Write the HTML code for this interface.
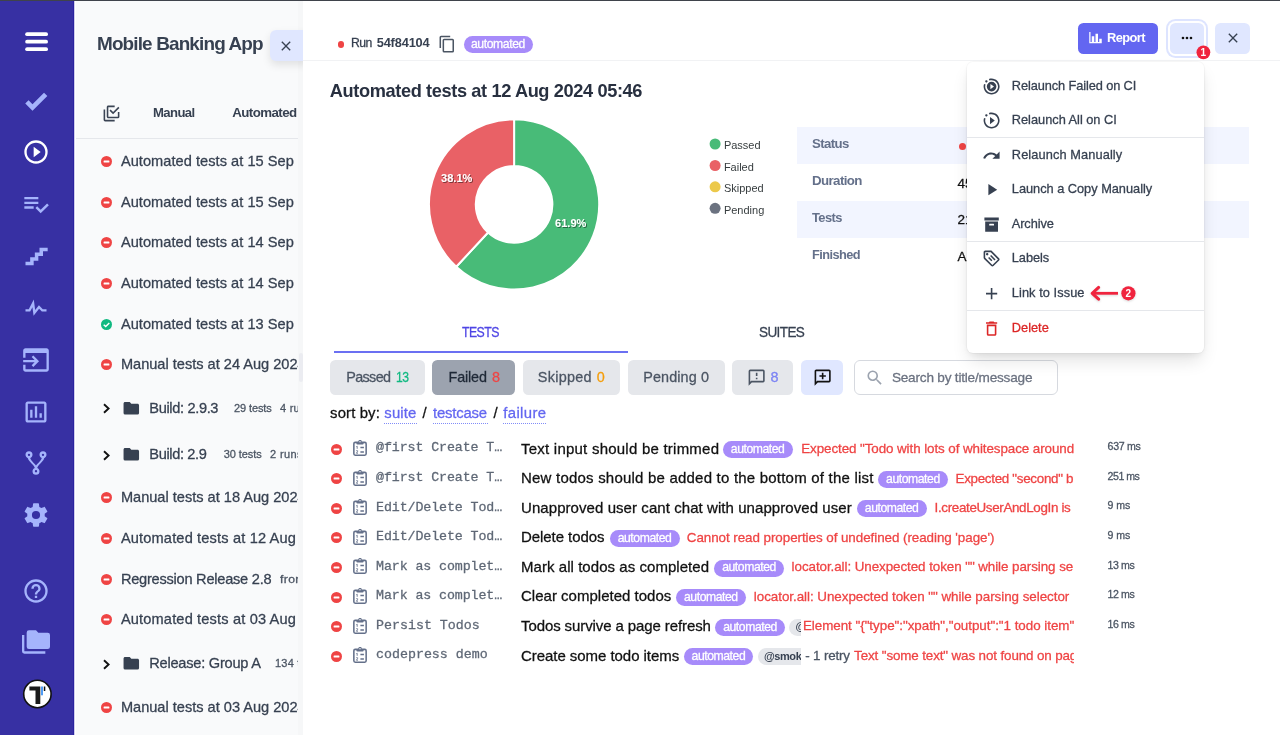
<!DOCTYPE html>
<html lang="en">
<head>
<meta charset="utf-8">
<title>Mobile Banking App - Runs</title>
<style>
*{box-sizing:border-box;margin:0;padding:0}
html,body{width:1280px;height:735px;overflow:hidden;background:#f9fafb;font-family:"Liberation Sans",sans-serif;color:#374151}
#app{position:absolute;left:0;top:0;width:1280px;height:735px;will-change:transform}
.abs{position:absolute}
svg{display:block;position:absolute;fill:#374151}
.t{position:absolute;white-space:pre;line-height:1;-webkit-text-stroke:.28px currentColor}
#side{position:absolute;left:0;top:0;width:74px;height:735px;background:#3730a3;border-right:1px solid #2b239f}
#side svg{fill:#a5b4fc}
#topline{position:absolute;left:0;top:0;width:1280px;height:1px;background:#3f434b}
#strip{position:absolute;left:74px;top:0;width:2px;height:735px;background:#fff;border-left:1px solid #cfcdeb}
#mainbg{position:absolute;left:303px;top:0;width:977px;height:735px;background:#fff}
.clip{position:absolute;overflow:hidden}
.badge{position:absolute;height:17px;border-radius:8.5px;background:#a78bfa}
</style>
</head>
<body>
<div id="app">
<div id="side">
<svg style="left:24px;top:30px;width:26px;height:23px" viewBox="0 0 26 23"><g fill="#fff"><rect x="1.2" y="2.3" width="22.8" height="3.8" rx="1.9"/><rect x="1.2" y="9.8" width="22.8" height="3.8" rx="1.9"/><rect x="1.2" y="17.3" width="22.8" height="3.8" rx="1.9"/></g></svg>
<svg style="left:22.4px;top:87.0px;width:28px;height:28px" viewBox="0 0 24 24"><path d="M9,20.42L2.79,14.21L5.62,11.38L9,14.77L18.88,4.88L21.71,7.71L9,20.42Z"/></svg>
<svg style="left:22.4px;top:138.4px;width:28px;height:28px;fill:#fff" viewBox="0 0 24 24"><path d="M12,20C7.59,20 4,16.41 4,12C4,7.59 7.59,4 12,4C16.41,4 20,7.59 20,12C20,16.41 16.41,20 12,20M12,2A10,10 0 0,0 2,12A10,10 0 0,0 12,22A10,10 0 0,0 22,12A10,10 0 0,0 12,2M10,16.5L16,12L10,7.5V16.5Z"/></svg>
<svg style="left:22.4px;top:189.8px;width:28px;height:28px" viewBox="0 0 24 24"><path d="M14,10H2V12H14V10M14,6H2V8H14V6M2,16H10V14H2V16M21.5,11.5L23,13L16,20L11.5,15.5L13,14L16,17L21.5,11.5Z"/></svg>
<svg style="left:22.4px;top:242.1px;width:28px;height:28px" viewBox="0 0 24 24"><path d="M15,5V9H11V13H7V17H3V20H10V16H14V12H18V8H22V5H15Z"/></svg>
<svg style="left:22.4px;top:294px;width:28px;height:28px" viewBox="0 0 24 24"><path d="M3,13H5.79L10.1,4.79L11.28,13.75L14.5,9.66L17.83,13H21V15H17L14.67,12.67L9.92,18.73L8.94,11.31L7,15H3V13Z"/></svg>
<svg style="left:22.4px;top:345.6px;width:28px;height:28px" viewBox="0 0 24 24"><path d="M1 12H10.8L8.3 9.5L9.7 8.1L14.6 13L9.7 17.9L8.3 16.5L10.8 14H1V12M21 2H3C1.9 2 1 2.9 1 4V10.1H3V6H21V20H3V16H1V20C1 21.1 1.9 22 3 22H21C22.1 22 23 21.1 23 20V4C23 2.9 22.1 2 21 2Z"/></svg>
<svg style="left:22.4px;top:397.5px;width:28px;height:28px" viewBox="0 0 24 24"><path d="M9 17H7V10H9V17M13 17H11V7H13V17M17 17H15V13H17V17M19 19H5V5H19V19.1M19 3H5C3.9 3 3 3.9 3 5V19C3 20.1 3.9 21 5 21H19C20.1 21 21 20.1 21 19V5C21 3.9 20.1 3 19 3Z"/></svg>
<svg style="left:22.4px;top:449px;width:28px;height:28px" viewBox="0 0 24 24"><path d="M6,2A3,3 0 0,1 9,5C9,6.28 8.19,7.38 7.06,7.81C7.15,8.27 7.39,8.83 8,9.63C9,10.92 11,12.83 12,14.17C13,12.83 15,10.92 16,9.63C16.61,8.83 16.85,8.27 16.94,7.81C15.81,7.38 15,6.28 15,5A3,3 0 0,1 18,2A3,3 0 0,1 21,5C21,6.32 20.14,7.45 18.95,7.85C18.87,8.37 18.64,9 18,9.83C17,11.17 15,13.08 14,14.38C13.39,15.17 13.15,15.73 13.06,16.19C14.19,16.62 15,17.72 15,19A3,3 0 0,1 12,22A3,3 0 0,1 9,19C9,17.72 9.81,16.62 10.94,16.19C10.85,15.73 10.61,15.17 10,14.38C9,13.08 7,11.17 6,9.83C5.36,9 5.13,8.37 5.05,7.85C3.86,7.45 3,6.32 3,5A3,3 0 0,1 6,2M6,4A1,1 0 0,0 5,5A1,1 0 0,0 6,6A1,1 0 0,0 7,5A1,1 0 0,0 6,4M18,4A1,1 0 0,0 17,5A1,1 0 0,0 18,6A1,1 0 0,0 19,5A1,1 0 0,0 18,4M12,18A1,1 0 0,0 11,19A1,1 0 0,0 12,20A1,1 0 0,0 13,19A1,1 0 0,0 12,18Z"/></svg>
<svg style="left:22.4px;top:501px;width:28px;height:28px" viewBox="0 0 24 24"><path d="M12,15.5A3.5,3.5 0 0,1 8.5,12A3.5,3.5 0 0,1 12,8.5A3.5,3.5 0 0,1 15.5,12A3.5,3.5 0 0,1 12,15.5M19.43,12.97C19.47,12.65 19.5,12.33 19.5,12C19.5,11.67 19.47,11.34 19.43,11L21.54,9.37C21.73,9.22 21.78,8.95 21.66,8.73L19.66,5.27C19.54,5.05 19.27,4.96 19.05,5.05L16.56,6.05C16.04,5.66 15.5,5.32 14.87,5.07L14.5,2.42C14.46,2.18 14.25,2 14,2H10C9.75,2 9.54,2.18 9.5,2.42L9.13,5.07C8.5,5.32 7.96,5.66 7.44,6.05L4.95,5.05C4.73,4.96 4.46,5.05 4.34,5.27L2.34,8.73C2.21,8.95 2.27,9.22 2.46,9.37L4.57,11C4.53,11.34 4.5,11.67 4.5,12C4.5,12.33 4.53,12.65 4.57,12.97L2.46,14.63C2.27,14.78 2.21,15.05 2.34,15.27L4.34,18.73C4.46,18.95 4.73,19.03 4.95,18.95L7.44,17.94C7.96,18.34 8.5,18.68 9.13,18.93L9.5,21.58C9.54,21.82 9.75,22 10,22H14C14.25,22 14.46,21.82 14.5,21.58L14.87,18.93C15.5,18.67 16.04,18.34 16.56,17.94L19.05,18.95C19.27,19.03 19.54,18.95 19.66,18.73L21.66,15.27C21.78,15.05 21.73,14.78 21.54,14.63L19.43,12.97Z"/></svg>
<svg style="left:22.4px;top:576.7px;width:28px;height:28px" viewBox="0 0 24 24"><path d="M11,18H13V16H11V18M12,2A10,10 0 0,0 2,12A10,10 0 0,0 12,22A10,10 0 0,0 22,12A10,10 0 0,0 12,2M12,20C7.59,20 4,16.41 4,12C4,7.59 7.59,4 12,4C16.41,4 20,7.59 20,12C20,16.41 16.41,20 12,20M12,6A4,4 0 0,0 8,10H10A2,2 0 0,1 12,8A2,2 0 0,1 14,10C14,12 11,11.75 11,15H13C13,12.75 16,12.5 16,10A4,4 0 0,0 12,6Z"/></svg>
<svg style="left:22.4px;top:628px;width:28px;height:28px" viewBox="0 0 24 24"><path d="M22,4H14L12,2H6A2,2 0 0,0 4,4V16A2,2 0 0,0 6,18H22A2,2 0 0,0 24,16V6A2,2 0 0,0 22,4M2,6H0V11H0V20A2,2 0 0,0 2,22H20V20H2V6Z"/></svg>
<svg style="left:22px;top:679px;width:31px;height:31px" viewBox="0 0 31 31"><circle cx="15.4" cy="15" r="13.7" fill="#fff" stroke="#111" stroke-width="1.6"/><path d="M7.4 7.5H18.3V25H13.5V11.5H7.4Z" fill="#1a1a1a"/><rect x="19" y="7.5" width="2" height="8.8" fill="#4f9cf5"/><rect x="21.8" y="7.5" width="1.5" height="4.5" fill="#111"/></svg>
</div><div id="strip"></div>
<div id="list">
<span class="t" style="left:96.9px;top:34.4px;font-size:19px;font-weight:700;-webkit-text-stroke:0;color:#374151;letter-spacing:-0.855px;transform:scaleX(0.9954);transform-origin:0 0">Mobile Banking App</span>
<svg style="left:101.9px;top:103.6px;width:19px;height:19px;fill:#3b4454" viewBox="0 0 24 24"><path d="M20,16V10H22V16A2,2 0 0,1 20,18H8C6.89,18 6,17.1 6,16V4C6,2.89 6.89,2 8,2H16V4H8V16H20M10.91,7.08L14,10.17L20.59,3.58L22,5L14,13L9.5,8.5L10.91,7.08M16,20V22H4A2,2 0 0,1 2,20V7H4V20H16Z"/></svg>
<span class="t" style="left:152.6px;top:105.8px;font-size:13.3px;font-weight:700;-webkit-text-stroke:0;color:#374151;letter-spacing:-0.599px;transform:scaleX(0.9855);transform-origin:0 0">Manual</span>
<span class="t" style="left:232.2px;top:105.8px;font-size:13.3px;font-weight:700;-webkit-text-stroke:0;color:#374151;letter-spacing:-0.557px">Automated</span>
<div class="abs" style="left:76px;top:138px;width:227px;height:1px;background:#e5e7eb;border-radius:0px;"></div>
<svg style="left:101.1px;top:156.1px;width:11.0px;height:11.0px" viewBox="0 0 11 11"><circle cx="5.5" cy="5.5" r="5.5" fill="#ef4444"/><rect x="2.6" y="4.6" width="5.8" height="1.8" rx=".5" fill="#fff"/></svg>
<span class="t" style="left:120.9px;top:154.1px;font-size:14.6px;color:#374151;letter-spacing:0.042px">Automated tests at 15 Sep</span>
<svg style="left:101.1px;top:196.7px;width:11.0px;height:11.0px" viewBox="0 0 11 11"><circle cx="5.5" cy="5.5" r="5.5" fill="#ef4444"/><rect x="2.6" y="4.6" width="5.8" height="1.8" rx=".5" fill="#fff"/></svg>
<span class="t" style="left:120.9px;top:194.7px;font-size:14.6px;color:#374151;letter-spacing:0.042px">Automated tests at 15 Sep</span>
<svg style="left:101.1px;top:237.3px;width:11.0px;height:11.0px" viewBox="0 0 11 11"><circle cx="5.5" cy="5.5" r="5.5" fill="#ef4444"/><rect x="2.6" y="4.6" width="5.8" height="1.8" rx=".5" fill="#fff"/></svg>
<span class="t" style="left:120.9px;top:235.3px;font-size:14.6px;color:#374151;letter-spacing:0.042px">Automated tests at 14 Sep</span>
<svg style="left:101.1px;top:277.9px;width:11.0px;height:11.0px" viewBox="0 0 11 11"><circle cx="5.5" cy="5.5" r="5.5" fill="#ef4444"/><rect x="2.6" y="4.6" width="5.8" height="1.8" rx=".5" fill="#fff"/></svg>
<span class="t" style="left:120.9px;top:275.9px;font-size:14.6px;color:#374151;letter-spacing:0.042px">Automated tests at 14 Sep</span>
<svg style="left:101.1px;top:318.5px;width:11.0px;height:11.0px" viewBox="0 0 11 11"><circle cx="5.5" cy="5.5" r="5.5" fill="#10b981"/><path d="M2.7 5.7L4.7 7.6L8.3 3.9" fill="none" stroke="#fff" stroke-width="1.4"/></svg>
<span class="t" style="left:120.9px;top:316.5px;font-size:14.6px;color:#374151;letter-spacing:0.042px">Automated tests at 13 Sep</span>
<svg style="left:101.1px;top:359.2px;width:11.0px;height:11.0px" viewBox="0 0 11 11"><circle cx="5.5" cy="5.5" r="5.5" fill="#ef4444"/><rect x="2.6" y="4.6" width="5.8" height="1.8" rx=".5" fill="#fff"/></svg>
<span class="t" style="left:120.9px;top:357.2px;font-size:14.6px;color:#374151;letter-spacing:-0.008px">Manual tests at 24 Aug 2024</span>
<svg style="left:101.1px;top:492.4px;width:11.0px;height:11.0px" viewBox="0 0 11 11"><circle cx="5.5" cy="5.5" r="5.5" fill="#ef4444"/><rect x="2.6" y="4.6" width="5.8" height="1.8" rx=".5" fill="#fff"/></svg>
<span class="t" style="left:120.9px;top:490.4px;font-size:14.6px;color:#374151;letter-spacing:-0.008px">Manual tests at 18 Aug 2024</span>
<svg style="left:101.1px;top:533.0px;width:11.0px;height:11.0px" viewBox="0 0 11 11"><circle cx="5.5" cy="5.5" r="5.5" fill="#ef4444"/><rect x="2.6" y="4.6" width="5.8" height="1.8" rx=".5" fill="#fff"/></svg>
<span class="t" style="left:120.9px;top:531.0px;font-size:14.6px;color:#374151;letter-spacing:0.159px">Automated tests at 12 Aug</span>
<svg style="left:101.1px;top:614.2px;width:11.0px;height:11.0px" viewBox="0 0 11 11"><circle cx="5.5" cy="5.5" r="5.5" fill="#ef4444"/><rect x="2.6" y="4.6" width="5.8" height="1.8" rx=".5" fill="#fff"/></svg>
<span class="t" style="left:120.9px;top:612.2px;font-size:14.6px;color:#374151;letter-spacing:0.159px">Automated tests at 03 Aug</span>
<svg style="left:101.1px;top:701.5px;width:11.0px;height:11.0px" viewBox="0 0 11 11"><circle cx="5.5" cy="5.5" r="5.5" fill="#ef4444"/><rect x="2.6" y="4.6" width="5.8" height="1.8" rx=".5" fill="#fff"/></svg>
<span class="t" style="left:120.9px;top:699.5px;font-size:14.6px;color:#374151;letter-spacing:-0.008px">Manual tests at 03 Aug 2024</span>
<svg style="left:101.1px;top:573.6px;width:11.0px;height:11.0px" viewBox="0 0 11 11"><circle cx="5.5" cy="5.5" r="5.5" fill="#ef4444"/><rect x="2.6" y="4.6" width="5.8" height="1.8" rx=".5" fill="#fff"/></svg>
<span class="t" style="left:120.9px;top:571.6px;font-size:14.6px;color:#374151;letter-spacing:-0.241px">Regression Release 2.8</span>
<span class="t" style="left:280.3px;top:573.8px;font-size:11px;color:#4b5563;letter-spacing:0.330px;transform:scaleX(1.1092);transform-origin:0 0">from</span>
<svg style="left:101.5px;top:403.4px;width:9px;height:11px" viewBox="0 0 9 11"><path d="M2 1.2L6.6 5.5L2 9.8" fill="none" stroke="#111" stroke-width="1.9"/></svg>
<svg style="left:122.3px;top:398.70000000000005px;width:18.6px;height:18.6px;fill:#374151" viewBox="0 0 24 24"><path d="M10,4H4C2.89,4 2,4.89 2,6V18A2,2 0 0,0 4,20H20A2,2 0 0,0 22,18V8C22,6.89 21.1,6 20,6H12L10,4Z"/></svg>
<span class="t" style="left:149.3px;top:400.9px;font-size:14.6px;color:#374151;letter-spacing:-0.348px">Build: 2.9.3</span>
<span class="t" style="left:234.0px;top:403.0px;font-size:11px;color:#4b5563;letter-spacing:-0.104px">29 tests</span>
<span class="t" style="left:279.9px;top:403.0px;font-size:11px;color:#4b5563;letter-spacing:0.284px">4 runs</span>
<svg style="left:101.5px;top:449.8px;width:9px;height:11px" viewBox="0 0 9 11"><path d="M2 1.2L6.6 5.5L2 9.8" fill="none" stroke="#111" stroke-width="1.9"/></svg>
<svg style="left:122.3px;top:445.1px;width:18.6px;height:18.6px;fill:#374151" viewBox="0 0 24 24"><path d="M10,4H4C2.89,4 2,4.89 2,6V18A2,2 0 0,0 4,20H20A2,2 0 0,0 22,18V8C22,6.89 21.1,6 20,6H12L10,4Z"/></svg>
<span class="t" style="left:149.3px;top:447.3px;font-size:14.6px;color:#374151;letter-spacing:-0.373px">Build: 2.9</span>
<span class="t" style="left:223.7px;top:449.4px;font-size:11px;color:#4b5563;letter-spacing:-0.076px">30 tests</span>
<span class="t" style="left:270.1px;top:449.4px;font-size:11px;color:#4b5563;letter-spacing:0.384px">2 runs</span>
<svg style="left:101.5px;top:658.6px;width:9px;height:11px" viewBox="0 0 9 11"><path d="M2 1.2L6.6 5.5L2 9.8" fill="none" stroke="#111" stroke-width="1.9"/></svg>
<svg style="left:122.3px;top:653.9px;width:18.6px;height:18.6px;fill:#374151" viewBox="0 0 24 24"><path d="M10,4H4C2.89,4 2,4.89 2,6V18A2,2 0 0,0 4,20H20A2,2 0 0,0 22,18V8C22,6.89 21.1,6 20,6H12L10,4Z"/></svg>
<span class="t" style="left:149.3px;top:656.1px;font-size:14.6px;color:#374151;letter-spacing:-0.240px">Release: Group A</span>
<span class="t" style="left:275.0px;top:658.2px;font-size:11px;color:#4b5563;letter-spacing:0.232px">134 tests</span>
<div class="abs" style="left:298px;top:1px;width:5px;height:734px;background:#f6f7f8;border-radius:0px;"></div>
<div class="abs" style="left:298.9px;top:353px;width:4.1px;height:29.4px;background:#ebecf1;border-radius:2.2px;"></div>
<div class="abs" style="left:270px;top:30px;width:40px;height:31px;background:#e0e7ff;border-radius:6px;box-shadow:0 4px 8px rgba(0,0,0,.10)"></div>
<svg style="left:278px;top:37.5px;width:16px;height:16px;fill:#374151" viewBox="0 0 24 24"><path d="M19,6.41L17.59,5L12,10.59L6.41,5L5,6.41L10.59,12L5,17.59L6.41,19L12,13.41L17.59,19L19,17.59L13.41,12L19,6.41Z"/></svg>
</div>
<div id="mainbg"></div>
<div class="abs" style="left:303px;top:60px;width:977px;height:1px;background:#f1f2f4;border-radius:0px;"></div>
<div class="abs" style="left:337.9px;top:41px;width:6.5px;height:6.5px;border-radius:50%;background:#ef4444"></div>
<span class="t" style="left:351.0px;top:36.6px;font-size:12.8px;color:#374151;letter-spacing:-0.576px;transform:scaleX(0.9538);transform-origin:0 0">Run</span>
<span class="t" style="left:376.7px;top:36.6px;font-size:12.8px;font-weight:700;-webkit-text-stroke:0;color:#374151;letter-spacing:-0.156px">54f84104</span>
<svg style="left:437.8px;top:35px;width:18.3px;height:18.3px;fill:#4b5563" viewBox="0 0 24 24"><path d="M19,21H8V7H19M19,5H8A2,2 0 0,0 6,7V21A2,2 0 0,0 8,23H19A2,2 0 0,0 21,21V7A2,2 0 0,0 19,5M16,1H4A2,2 0 0,0 2,3V17H4V3H16V1Z"/></svg>
<div class="badge" style="left:463.5px;top:35.8px;width:69.8px"></div>
<span class="t" style="left:470.9px;top:37.7px;font-size:12.2px;color:#fff;letter-spacing:-0.387px">automated</span>
<div class="abs" style="left:1078px;top:22.5px;width:80px;height:31.5px;background:#6366f1;border-radius:5.5px;"></div>
<svg style="left:1088px;top:30.4px;width:15px;height:15px;fill:#fff" viewBox="0 0 24 24"><path d="M22,21H2V3H4V19H6V10H10V19H12V6H16V19H18V14H22V21Z"/></svg>
<span class="t" style="left:1107.4px;top:31.4px;font-size:13.3px;font-weight:700;-webkit-text-stroke:0;color:#fff;letter-spacing:-0.599px;transform:scaleX(0.9682);transform-origin:0 0">Report</span>
<div class="abs" style="left:1170px;top:22.5px;width:34px;height:31.5px;background:#e0e7ff;border-radius:5.5px;box-shadow:0 0 0 2px #fff,0 0 0 4px #dde4ff"></div>
<svg style="left:1178.8px;top:29.7px;width:16px;height:16px;fill:#111" viewBox="0 0 24 24"><path d="M16,12A2,2 0 0,1 18,10A2,2 0 0,1 20,12A2,2 0 0,1 18,14A2,2 0 0,1 16,12M10,12A2,2 0 0,1 12,10A2,2 0 0,1 14,12A2,2 0 0,1 12,14A2,2 0 0,1 10,12M4,12A2,2 0 0,1 6,10A2,2 0 0,1 8,12A2,2 0 0,1 6,14A2,2 0 0,1 4,12Z"/></svg>
<div class="abs" style="left:1215px;top:22.5px;width:35px;height:31.5px;background:#e0e7ff;border-radius:5.5px;"></div>
<svg style="left:1224.7px;top:30px;width:16px;height:16px;fill:#374151" viewBox="0 0 24 24"><path d="M19,6.41L17.59,5L12,10.59L6.41,5L5,6.41L10.59,12L5,17.59L6.41,19L12,13.41L17.59,19L19,17.59L13.41,12L19,6.41Z"/></svg>
<span class="t" style="left:329.8px;top:81.7px;font-size:18.2px;font-weight:700;-webkit-text-stroke:0;color:#283040;letter-spacing:-0.377px">Automated tests at 12 Aug 2024 05:46</span>
<svg style="left:0;top:0;width:1280px;height:735px" viewBox="0 0 1280 735"><defs><filter id="ds" x="-20%" y="-20%" width="140%" height="150%"><feDropShadow dx="1" dy="1" stdDeviation="0.6" flood-color="#000" flood-opacity=".45"/></filter></defs><path d="M514.10 119.30A85.1 85.1 0 1 1 456.22 266.78L488.05 232.48A38.3 38.3 0 1 0 514.10 166.10Z" fill="#48bb78" stroke="#fff" stroke-width="2"/><path d="M456.22 266.78A85.1 85.1 0 0 1 514.10 119.30L514.10 166.10A38.3 38.3 0 0 0 488.05 232.48Z" fill="#e96166" stroke="#fff" stroke-width="2"/><g font-family="Liberation Sans, sans-serif" font-size="11" font-weight="700" fill="#fff" text-anchor="middle" filter="url(#ds)"><text x="456.7" y="182.4">38.1%</text><text x="570.7" y="227.1">61.9%</text></g><g><circle cx="715.1" cy="144" r="5.5" fill="#48bb78"/><circle cx="715.1" cy="165.5" r="5.5" fill="#e96166"/><circle cx="715.1" cy="186.8" r="5.5" fill="#ecc94b"/><circle cx="715.1" cy="208.3" r="5.5" fill="#6b7280"/></g><g font-family="Liberation Sans, sans-serif" font-size="11" fill="#373d3f"><text x="723.9" y="149.4">Passed</text><text x="723.9" y="170.9">Failed</text><text x="723.9" y="192.3">Skipped</text><text x="723.9" y="213.7">Pending</text></g></svg>
<div class="abs" style="left:797px;top:127px;width:452px;height:37px;background:#f2f5ff;border-radius:0px;"></div>
<div class="abs" style="left:797px;top:201px;width:452px;height:37px;background:#f2f5ff;border-radius:0px;"></div>
<span class="t" style="left:811.8px;top:136.8px;font-size:13.3px;font-weight:700;-webkit-text-stroke:0;color:#64708a;letter-spacing:-0.599px;transform:scaleX(0.9934);transform-origin:0 0">Status</span>
<span class="t" style="left:811.8px;top:173.8px;font-size:13.3px;font-weight:700;-webkit-text-stroke:0;color:#64708a;letter-spacing:-0.599px;transform:scaleX(1.0003);transform-origin:0 0">Duration</span>
<span class="t" style="left:811.8px;top:210.7px;font-size:13.3px;font-weight:700;-webkit-text-stroke:0;color:#64708a;letter-spacing:-0.599px;transform:scaleX(0.9695);transform-origin:0 0">Tests</span>
<span class="t" style="left:811.8px;top:247.5px;font-size:13.3px;font-weight:700;-webkit-text-stroke:0;color:#64708a;letter-spacing:-0.599px;transform:scaleX(0.9607);transform-origin:0 0">Finished</span>
<div class="abs" style="left:958.5px;top:143px;width:7px;height:7px;border-radius:50%;background:#ef4444"></div>
<span class="t" style="left:970.0px;top:139.2px;font-size:13.5px;color:#111">failed</span>
<span class="t" style="left:957.6px;top:176.8px;font-size:13.5px;color:#111">45s</span>
<span class="t" style="left:957.6px;top:213.2px;font-size:13.5px;color:#111">21</span>
<span class="t" style="left:957.6px;top:250.2px;font-size:13.5px;color:#111">Aug 12, 2024</span>
<span class="t" style="left:462.3px;top:324.7px;font-size:14.4px;color:#4f46e5;letter-spacing:-0.648px;transform:scaleX(0.8539);transform-origin:0 0">TESTS</span>
<span class="t" style="left:759.4px;top:325.1px;font-size:14.4px;color:#374151;letter-spacing:-0.648px;transform:scaleX(0.9416);transform-origin:0 0">SUITES</span>
<div class="abs" style="left:334px;top:351px;width:294px;height:2px;background:#6b70f2;border-radius:0px;"></div>
<div class="abs" style="left:330.3px;top:360.2px;width:94.7px;height:34.6px;background:#e5e7eb;border-radius:5.5px;"></div>
<span class="t" style="left:346.3px;top:369.8px;font-size:14.4px;color:#4b5563;letter-spacing:-0.660px">Passed</span>
<span class="t" style="left:395.7px;top:369.8px;font-size:14.4px;color:#10b981;letter-spacing:-0.648px;transform:scaleX(0.8459);transform-origin:0 0">13</span>
<div class="abs" style="left:432.3px;top:360.2px;width:82.8px;height:34.6px;background:#9ca3af;border-radius:5.5px;"></div>
<span class="t" style="left:448.5px;top:369.8px;font-size:14.4px;color:#1f2937;letter-spacing:-0.161px">Failed</span>
<span class="t" style="left:492.0px;top:369.8px;font-size:14.4px;color:#ef4444">8</span>
<div class="abs" style="left:523px;top:360.2px;width:97px;height:34.6px;background:#e5e7eb;border-radius:5.5px;"></div>
<span class="t" style="left:537.8px;top:369.8px;font-size:14.4px;color:#4b5563;letter-spacing:0.281px">Skipped</span>
<span class="t" style="left:596.8px;top:369.8px;font-size:14.4px;color:#f59e0b">0</span>
<div class="abs" style="left:627.6px;top:360.2px;width:97.2px;height:34.6px;background:#e5e7eb;border-radius:5.5px;"></div>
<span class="t" style="left:643.3px;top:369.8px;font-size:14.4px;color:#4b5563;letter-spacing:0.096px">Pending 0</span>
<div class="abs" style="left:732.3px;top:360.2px;width:61px;height:34.6px;background:#e5e7eb;border-radius:5.5px;"></div>
<svg style="left:747px;top:368.3px;width:19.3px;height:19.3px;fill:#4b5563" viewBox="0 0 24 24"><path d="M13,10H11V6H13V10M13,12H11V14H13V12M22,4V16A2,2 0 0,1 20,18H6L2,22V4A2,2 0 0,1 4,2H20A2,2 0 0,1 22,4M20,4H4V17.2L5.2,16H20V4Z"/></svg>
<span class="t" style="left:770.5px;top:369.8px;font-size:14.4px;color:#7b83f4">8</span>
<div class="abs" style="left:801px;top:360.2px;width:42px;height:34.6px;background:#e0e7ff;border-radius:5.5px;"></div>
<svg style="left:812.8px;top:368.3px;width:19.3px;height:19.3px;fill:#111" viewBox="0 0 24 24"><path d="M20 2H4C2.9 2 2 2.9 2 4V22L6 18H20C21.1 18 22 17.1 22 16V4C22 2.9 21.1 2 20 2M20 16H5.2L4 17.2V4H20V16M11 14H13V11H16V9H13V6H11V9H8V11H11V14Z"/></svg>
<div class="abs" style="left:854.4px;top:360.3px;width:203.4px;height:34.7px;border:1px solid #d6d9df;border-radius:6px;background:#fff"></div>
<svg style="left:865.4px;top:367.6px;width:19.5px;height:19.5px;fill:#9ca3af" viewBox="0 0 24 24"><path d="M9.5,3A6.5,6.5 0 0,1 16,9.5C16,11.11 15.41,12.59 14.44,13.73L14.71,14H15.5L20.5,19L19,20.5L14,15.5V14.71L13.73,14.44C12.59,15.41 11.11,16 9.5,16A6.5,6.5 0 0,1 3,9.5A6.5,6.5 0 0,1 9.5,3M9.5,5C7,5 5,7 5,9.5C5,12 7,14 9.5,14C12,14 14,12 14,9.5C14,7 12,5 9.5,5Z"/></svg>
<span class="t" style="left:891.9px;top:370.6px;font-size:13.6px;color:#6b7280;letter-spacing:-0.204px">Search by title/message</span>
<span class="t" style="left:330.1px;top:405.9px;font-size:14.9px;color:#111;letter-spacing:0.125px">sort by:</span>
<span class="t" style="left:384.3px;top:405.9px;font-size:14.9px;color:#6366f1;letter-spacing:0.158px">suite</span>
<div class="abs" style="left:383.8px;top:422.7px;width:33.1px;border-top:1.5px dotted #818cf8"></div>
<span class="t" style="left:433.1px;top:405.9px;font-size:14.9px;color:#6366f1;letter-spacing:-0.210px">testcase</span>
<div class="abs" style="left:432.6px;top:422.7px;width:55.0px;border-top:1.5px dotted #818cf8"></div>
<span class="t" style="left:503.3px;top:405.9px;font-size:14.9px;color:#6366f1;letter-spacing:0.356px">failure</span>
<div class="abs" style="left:502.8px;top:422.7px;width:43.7px;border-top:1.5px dotted #818cf8"></div>
<span class="t" style="left:422.6px;top:405.9px;font-size:14.9px;color:#111">/</span>
<span class="t" style="left:493.4px;top:405.9px;font-size:14.9px;color:#111">/</span>
<svg style="left:331.1px;top:443.7px;width:11.0px;height:11.0px" viewBox="0 0 11 11"><circle cx="5.5" cy="5.5" r="5.5" fill="#ef4444"/><rect x="2.6" y="4.6" width="5.8" height="1.8" rx=".5" fill="#fff"/></svg>
<svg style="left:352.8px;top:440.1px;width:14px;height:16px;fill:none" viewBox="0 0 14 16"><rect x=".85" y="2.35" width="12.3" height="12.8" rx="1.3" stroke="#64708a" stroke-width="1.55"/><path d="M3.4 2.3H10.6V3.5Q10.6 4.5 9.6 4.5H4.4Q3.4 4.5 3.4 3.5Z" fill="#64708a"/><circle cx="7" cy="1.7" r="1.25" stroke="#64708a" stroke-width="1.1" fill="#fff"/><path d="M7.4 7.5H10.9M7.4 11.9H10.9" stroke="#64708a" stroke-width="1.5"/><path d="M3.3 6.7L4.2 6.2V8.8M3.2 10.8Q4.1 10.1 4.7 10.8Q5 11.5 3.3 13.2H5" stroke="#64708a" stroke-width=".85"/></svg>
<span class="t" style="left:376.0px;top:441.4px;font-size:13.3px;color:#5f6876;font-family:'Liberation Mono',monospace;letter-spacing:-0.098px">@first Create T…</span>
<span class="t" style="left:521.0px;top:440.5px;font-size:15px;color:#111;letter-spacing:0.231px">Text input should be trimmed</span>
<div class="badge" style="left:723.0px;top:441.2px;width:69.7px"></div>
<span class="t" style="left:730.8px;top:443.1px;font-size:12.2px;color:#fff;letter-spacing:-0.437px">automated</span>
<div class="clip" style="left:798.2px;top:435.9px;width:276.0px;height:27px">
<span class="t" style="left:3px;top:6.2px;font-size:13.4px;color:#ef4444;letter-spacing:-0.081px">Expected "Todo with lots of whitespace around the</span>
</div>
<span class="t" style="left:1107.6px;top:441.2px;font-size:10.6px;color:#4b5563;letter-spacing:-0.290px">637 ms</span>
<svg style="left:331.1px;top:473.3px;width:11.0px;height:11.0px" viewBox="0 0 11 11"><circle cx="5.5" cy="5.5" r="5.5" fill="#ef4444"/><rect x="2.6" y="4.6" width="5.8" height="1.8" rx=".5" fill="#fff"/></svg>
<svg style="left:352.8px;top:469.7px;width:14px;height:16px;fill:none" viewBox="0 0 14 16"><rect x=".85" y="2.35" width="12.3" height="12.8" rx="1.3" stroke="#64708a" stroke-width="1.55"/><path d="M3.4 2.3H10.6V3.5Q10.6 4.5 9.6 4.5H4.4Q3.4 4.5 3.4 3.5Z" fill="#64708a"/><circle cx="7" cy="1.7" r="1.25" stroke="#64708a" stroke-width="1.1" fill="#fff"/><path d="M7.4 7.5H10.9M7.4 11.9H10.9" stroke="#64708a" stroke-width="1.5"/><path d="M3.3 6.7L4.2 6.2V8.8M3.2 10.8Q4.1 10.1 4.7 10.8Q5 11.5 3.3 13.2H5" stroke="#64708a" stroke-width=".85"/></svg>
<span class="t" style="left:376.0px;top:470.9px;font-size:13.3px;color:#5f6876;font-family:'Liberation Mono',monospace;letter-spacing:-0.098px">@first Create T…</span>
<span class="t" style="left:521.0px;top:470.1px;font-size:15px;color:#111;letter-spacing:0.210px">New todos should be added to the bottom of the list</span>
<div class="badge" style="left:878.3px;top:470.8px;width:69.7px"></div>
<span class="t" style="left:886.1px;top:472.7px;font-size:12.2px;color:#fff;letter-spacing:-0.437px">automated</span>
<div class="clip" style="left:952.5px;top:465.5px;width:121.7px;height:27px">
<span class="t" style="left:3px;top:6.2px;font-size:13.4px;color:#ef4444;letter-spacing:-0.300px">Expected "second" but</span>
</div>
<span class="t" style="left:1107.6px;top:470.8px;font-size:10.6px;color:#4b5563;letter-spacing:-0.490px">251 ms</span>
<svg style="left:331.1px;top:502.8px;width:11.0px;height:11.0px" viewBox="0 0 11 11"><circle cx="5.5" cy="5.5" r="5.5" fill="#ef4444"/><rect x="2.6" y="4.6" width="5.8" height="1.8" rx=".5" fill="#fff"/></svg>
<svg style="left:352.8px;top:499.2px;width:14px;height:16px;fill:none" viewBox="0 0 14 16"><rect x=".85" y="2.35" width="12.3" height="12.8" rx="1.3" stroke="#64708a" stroke-width="1.55"/><path d="M3.4 2.3H10.6V3.5Q10.6 4.5 9.6 4.5H4.4Q3.4 4.5 3.4 3.5Z" fill="#64708a"/><circle cx="7" cy="1.7" r="1.25" stroke="#64708a" stroke-width="1.1" fill="#fff"/><path d="M7.4 7.5H10.9M7.4 11.9H10.9" stroke="#64708a" stroke-width="1.5"/><path d="M3.3 6.7L4.2 6.2V8.8M3.2 10.8Q4.1 10.1 4.7 10.8Q5 11.5 3.3 13.2H5" stroke="#64708a" stroke-width=".85"/></svg>
<span class="t" style="left:376.0px;top:500.5px;font-size:13.3px;color:#5f6876;font-family:'Liberation Mono',monospace;letter-spacing:-0.098px">Edit/Delete Tod…</span>
<span class="t" style="left:521.0px;top:499.6px;font-size:15px;color:#111;letter-spacing:0.067px">Unapproved user cant chat with unapproved user</span>
<div class="badge" style="left:857.0px;top:500.3px;width:69.7px"></div>
<span class="t" style="left:864.8px;top:502.2px;font-size:12.2px;color:#fff;letter-spacing:-0.437px">automated</span>
<div class="clip" style="left:931.6px;top:495.0px;width:142.6px;height:27px">
<span class="t" style="left:3px;top:6.2px;font-size:13.4px;color:#ef4444;letter-spacing:-0.343px">I.createUserAndLogIn is not a function</span>
</div>
<span class="t" style="left:1107.6px;top:500.3px;font-size:10.6px;color:#4b5563;letter-spacing:-0.090px">9 ms</span>
<svg style="left:331.1px;top:532.4px;width:11.0px;height:11.0px" viewBox="0 0 11 11"><circle cx="5.5" cy="5.5" r="5.5" fill="#ef4444"/><rect x="2.6" y="4.6" width="5.8" height="1.8" rx=".5" fill="#fff"/></svg>
<svg style="left:352.8px;top:528.8px;width:14px;height:16px;fill:none" viewBox="0 0 14 16"><rect x=".85" y="2.35" width="12.3" height="12.8" rx="1.3" stroke="#64708a" stroke-width="1.55"/><path d="M3.4 2.3H10.6V3.5Q10.6 4.5 9.6 4.5H4.4Q3.4 4.5 3.4 3.5Z" fill="#64708a"/><circle cx="7" cy="1.7" r="1.25" stroke="#64708a" stroke-width="1.1" fill="#fff"/><path d="M7.4 7.5H10.9M7.4 11.9H10.9" stroke="#64708a" stroke-width="1.5"/><path d="M3.3 6.7L4.2 6.2V8.8M3.2 10.8Q4.1 10.1 4.7 10.8Q5 11.5 3.3 13.2H5" stroke="#64708a" stroke-width=".85"/></svg>
<span class="t" style="left:376.0px;top:530.1px;font-size:13.3px;color:#5f6876;font-family:'Liberation Mono',monospace;letter-spacing:-0.098px">Edit/Delete Tod…</span>
<span class="t" style="left:521.0px;top:529.2px;font-size:15px;color:#111;letter-spacing:-0.058px">Delete todos</span>
<div class="badge" style="left:609.9px;top:529.9px;width:69.7px"></div>
<span class="t" style="left:617.7px;top:531.8px;font-size:12.2px;color:#fff;letter-spacing:-0.437px">automated</span>
<div class="clip" style="left:683.8px;top:524.6px;width:390.4px;height:27px">
<span class="t" style="left:3px;top:6.2px;font-size:13.4px;color:#ef4444;letter-spacing:-0.054px">Cannot read properties of undefined (reading 'page')</span>
</div>
<span class="t" style="left:1107.6px;top:529.9px;font-size:10.6px;color:#4b5563;letter-spacing:-0.090px">9 ms</span>
<svg style="left:331.1px;top:562.0px;width:11.0px;height:11.0px" viewBox="0 0 11 11"><circle cx="5.5" cy="5.5" r="5.5" fill="#ef4444"/><rect x="2.6" y="4.6" width="5.8" height="1.8" rx=".5" fill="#fff"/></svg>
<svg style="left:352.8px;top:558.4px;width:14px;height:16px;fill:none" viewBox="0 0 14 16"><rect x=".85" y="2.35" width="12.3" height="12.8" rx="1.3" stroke="#64708a" stroke-width="1.55"/><path d="M3.4 2.3H10.6V3.5Q10.6 4.5 9.6 4.5H4.4Q3.4 4.5 3.4 3.5Z" fill="#64708a"/><circle cx="7" cy="1.7" r="1.25" stroke="#64708a" stroke-width="1.1" fill="#fff"/><path d="M7.4 7.5H10.9M7.4 11.9H10.9" stroke="#64708a" stroke-width="1.5"/><path d="M3.3 6.7L4.2 6.2V8.8M3.2 10.8Q4.1 10.1 4.7 10.8Q5 11.5 3.3 13.2H5" stroke="#64708a" stroke-width=".85"/></svg>
<span class="t" style="left:376.0px;top:559.6px;font-size:13.3px;color:#5f6876;font-family:'Liberation Mono',monospace;letter-spacing:-0.098px">Mark as complet…</span>
<span class="t" style="left:521.0px;top:558.8px;font-size:15px;color:#111;letter-spacing:0.051px">Mark all todos as completed</span>
<div class="badge" style="left:714.4px;top:559.5px;width:69.7px"></div>
<span class="t" style="left:722.2px;top:561.4px;font-size:12.2px;color:#fff;letter-spacing:-0.437px">automated</span>
<div class="clip" style="left:788.6px;top:554.2px;width:285.6px;height:27px">
<span class="t" style="left:3px;top:6.2px;font-size:13.4px;color:#ef4444;letter-spacing:-0.069px">locator.all: Unexpected token "" while parsing selector</span>
</div>
<span class="t" style="left:1107.6px;top:559.5px;font-size:10.6px;color:#4b5563;letter-spacing:-0.440px">13 ms</span>
<svg style="left:331.1px;top:591.5px;width:11.0px;height:11.0px" viewBox="0 0 11 11"><circle cx="5.5" cy="5.5" r="5.5" fill="#ef4444"/><rect x="2.6" y="4.6" width="5.8" height="1.8" rx=".5" fill="#fff"/></svg>
<svg style="left:352.8px;top:588.0px;width:14px;height:16px;fill:none" viewBox="0 0 14 16"><rect x=".85" y="2.35" width="12.3" height="12.8" rx="1.3" stroke="#64708a" stroke-width="1.55"/><path d="M3.4 2.3H10.6V3.5Q10.6 4.5 9.6 4.5H4.4Q3.4 4.5 3.4 3.5Z" fill="#64708a"/><circle cx="7" cy="1.7" r="1.25" stroke="#64708a" stroke-width="1.1" fill="#fff"/><path d="M7.4 7.5H10.9M7.4 11.9H10.9" stroke="#64708a" stroke-width="1.5"/><path d="M3.3 6.7L4.2 6.2V8.8M3.2 10.8Q4.1 10.1 4.7 10.8Q5 11.5 3.3 13.2H5" stroke="#64708a" stroke-width=".85"/></svg>
<span class="t" style="left:376.0px;top:589.2px;font-size:13.3px;color:#5f6876;font-family:'Liberation Mono',monospace;letter-spacing:-0.098px">Mark as complet…</span>
<span class="t" style="left:521.0px;top:588.4px;font-size:15px;color:#111;letter-spacing:0.010px">Clear completed todos</span>
<div class="badge" style="left:676.2px;top:589.0px;width:69.7px"></div>
<span class="t" style="left:684.0px;top:590.9px;font-size:12.2px;color:#fff;letter-spacing:-0.437px">automated</span>
<div class="clip" style="left:750.8px;top:583.8px;width:323.4px;height:27px">
<span class="t" style="left:3px;top:6.2px;font-size:13.4px;color:#ef4444;letter-spacing:-0.040px">locator.all: Unexpected token "" while parsing selector</span>
</div>
<span class="t" style="left:1107.6px;top:589.1px;font-size:10.6px;color:#4b5563;letter-spacing:-0.440px">12 ms</span>
<svg style="left:331.1px;top:621.1px;width:11.0px;height:11.0px" viewBox="0 0 11 11"><circle cx="5.5" cy="5.5" r="5.5" fill="#ef4444"/><rect x="2.6" y="4.6" width="5.8" height="1.8" rx=".5" fill="#fff"/></svg>
<svg style="left:352.8px;top:617.5px;width:14px;height:16px;fill:none" viewBox="0 0 14 16"><rect x=".85" y="2.35" width="12.3" height="12.8" rx="1.3" stroke="#64708a" stroke-width="1.55"/><path d="M3.4 2.3H10.6V3.5Q10.6 4.5 9.6 4.5H4.4Q3.4 4.5 3.4 3.5Z" fill="#64708a"/><circle cx="7" cy="1.7" r="1.25" stroke="#64708a" stroke-width="1.1" fill="#fff"/><path d="M7.4 7.5H10.9M7.4 11.9H10.9" stroke="#64708a" stroke-width="1.5"/><path d="M3.3 6.7L4.2 6.2V8.8M3.2 10.8Q4.1 10.1 4.7 10.8Q5 11.5 3.3 13.2H5" stroke="#64708a" stroke-width=".85"/></svg>
<span class="t" style="left:376.0px;top:618.8px;font-size:13.3px;color:#5f6876;font-family:'Liberation Mono',monospace">Persist Todos</span>
<span class="t" style="left:521.0px;top:617.9px;font-size:15px;color:#111;letter-spacing:-0.100px">Todos survive a page refresh</span>
<div class="badge" style="left:715.4px;top:618.6px;width:69.7px"></div>
<span class="t" style="left:723.2px;top:620.5px;font-size:12.2px;color:#fff;letter-spacing:-0.437px">automated</span>
<div class="clip" style="left:789.4px;top:613.3px;width:11.2px;height:27px">
<div class="badge" style="left:0;top:5.3px;width:60px;background:#e5e7eb"></div>
<span class="t" style="left:6.2px;top:7.7px;font-size:11px;font-weight:700;-webkit-text-stroke:0;color:#374151;letter-spacing:-0.419px">@smoke</span>
</div>
<div class="clip" style="left:799.9px;top:613.3px;width:274.3px;height:27px">
<span class="t" style="left:3px;top:6.2px;font-size:13.4px;color:#ef4444;letter-spacing:-0.032px">Element "{"type":"xpath","output":"1 todo item"}" was</span>
</div>
<span class="t" style="left:1107.6px;top:618.6px;font-size:10.6px;color:#4b5563;letter-spacing:-0.440px">16 ms</span>
<svg style="left:331.1px;top:650.7px;width:11.0px;height:11.0px" viewBox="0 0 11 11"><circle cx="5.5" cy="5.5" r="5.5" fill="#ef4444"/><rect x="2.6" y="4.6" width="5.8" height="1.8" rx=".5" fill="#fff"/></svg>
<svg style="left:352.8px;top:647.1px;width:14px;height:16px;fill:none" viewBox="0 0 14 16"><rect x=".85" y="2.35" width="12.3" height="12.8" rx="1.3" stroke="#64708a" stroke-width="1.55"/><path d="M3.4 2.3H10.6V3.5Q10.6 4.5 9.6 4.5H4.4Q3.4 4.5 3.4 3.5Z" fill="#64708a"/><circle cx="7" cy="1.7" r="1.25" stroke="#64708a" stroke-width="1.1" fill="#fff"/><path d="M7.4 7.5H10.9M7.4 11.9H10.9" stroke="#64708a" stroke-width="1.5"/><path d="M3.3 6.7L4.2 6.2V8.8M3.2 10.8Q4.1 10.1 4.7 10.8Q5 11.5 3.3 13.2H5" stroke="#64708a" stroke-width=".85"/></svg>
<span class="t" style="left:376.0px;top:648.3px;font-size:13.3px;color:#5f6876;font-family:'Liberation Mono',monospace">codepress demo</span>
<span class="t" style="left:521.0px;top:647.5px;font-size:15px;color:#111;letter-spacing:-0.050px">Create some todo items</span>
<div class="badge" style="left:683.8px;top:648.2px;width:69.7px"></div>
<span class="t" style="left:691.6px;top:650.1px;font-size:12.2px;color:#fff;letter-spacing:-0.437px">automated</span>
<div class="clip" style="left:757.8px;top:642.9px;width:42.8px;height:27px">
<div class="badge" style="left:0;top:5.3px;width:60px;background:#e5e7eb"></div>
<span class="t" style="left:6.2px;top:7.7px;font-size:11px;font-weight:700;-webkit-text-stroke:0;color:#374151;letter-spacing:-0.419px">@smoke</span>
</div>
<span class="t" style="left:805.3px;top:649.0px;font-size:13.4px;color:#4b5563;letter-spacing:-0.180px">- 1 retry</span>
<div class="clip" style="left:851.1px;top:642.9px;width:223.1px;height:27px">
<span class="t" style="left:3px;top:6.2px;font-size:13.4px;color:#ef4444;letter-spacing:-0.122px">Text "some text" was not found on page</span>
</div>
<div class="abs" style="left:967px;top:61.5px;width:237px;height:291px;background:#fff;border-radius:6px;box-shadow:0 10px 18px -3px rgba(0,0,0,.12),0 3px 8px -2px rgba(0,0,0,.08),0 0 0 1px rgba(0,0,0,.03)"></div>
<svg style="left:981.5px;top:76.7px;width:19.2px;height:19.2px;fill:#374151" viewBox="0 0 24 24"><path d="M22 12C22 6.46 17.54 2 12 2C10.83 2 9.7 2.19 8.62 2.56L9.32 4.5C10.17 4.16 11.06 3.97 12 3.97C16.41 3.97 20.03 7.59 20.03 12C20.03 16.41 16.41 20.03 12 20.03C7.59 20.03 3.97 16.41 3.97 12C3.97 11.06 4.16 10.12 4.5 9.28L2.56 8.62C2.19 9.7 2 10.83 2 12C2 17.54 6.46 22 12 22C17.54 22 22 17.54 22 12M5.47 7C4.68 7 3.97 6.32 3.97 5.47C3.97 4.68 4.68 3.97 5.47 3.97C6.32 3.97 7 4.68 7 5.47C7 6.32 6.32 7 5.47 7M12 6A6 6 0 0 0 6 12A6 6 0 0 0 12 18A6 6 0 0 0 18 12A6 6 0 0 0 12 6M10.5 15.2V8.8L15 12Z"/></svg>
<span class="t" style="left:1011.8px;top:79.7px;font-size:12.8px;color:#374151;letter-spacing:-0.106px">Relaunch Failed on CI</span>
<svg style="left:981.5px;top:110.8px;width:19.2px;height:19.2px;fill:#374151" viewBox="0 0 24 24"><path d="M10 16.5L16 12L10 7.5M22 12C22 6.46 17.54 2 12 2C10.83 2 9.7 2.19 8.62 2.56L9.32 4.5C10.17 4.16 11.06 3.97 12 3.97C16.41 3.97 20.03 7.59 20.03 12C20.03 16.41 16.41 20.03 12 20.03C7.59 20.03 3.97 16.41 3.97 12C3.97 11.06 4.16 10.12 4.5 9.28L2.56 8.62C2.19 9.7 2 10.83 2 12C2 17.54 6.46 22 12 22C17.54 22 22 17.54 22 12M5.47 3.97C6.32 3.97 7 4.68 7 5.47C7 6.32 6.32 7 5.47 7C4.68 7 3.97 6.32 3.97 5.47C3.97 4.68 4.68 3.97 5.47 3.97Z"/></svg>
<span class="t" style="left:1011.8px;top:113.8px;font-size:12.8px;color:#374151;letter-spacing:-0.017px">Relaunch All on CI</span>
<svg style="left:981.5px;top:145.7px;width:19.2px;height:19.2px;fill:#374151" viewBox="0 0 24 24"><path d="M18.4,10.6C16.55,9 14.15,8 11.5,8C6.85,8 2.92,11.03 1.54,15.22L3.9,16C4.95,12.81 7.95,10.5 11.5,10.5C13.45,10.5 15.23,11.22 16.62,12.38L13,16H22V7L18.4,10.6Z"/></svg>
<span class="t" style="left:1011.8px;top:148.7px;font-size:12.8px;color:#374151;letter-spacing:0.097px">Relaunch Manually</span>
<svg style="left:981.5px;top:180.2px;width:19.2px;height:19.2px;fill:#374151" viewBox="0 0 24 24"><path d="M8,5.14V19.14L19,12.14L8,5.14Z"/></svg>
<span class="t" style="left:1011.8px;top:183.2px;font-size:12.8px;color:#374151;letter-spacing:-0.022px">Launch a Copy Manually</span>
<svg style="left:981.5px;top:214.5px;width:19.2px;height:19.2px;fill:#374151" viewBox="0 0 24 24"><path d="M3,3H21V7H3V3M4,8H20V21H4V8M9.5,11A0.5,0.5 0 0,0 9,11.5V13H15V11.5A0.5,0.5 0 0,0 14.5,11H9.5Z"/></svg>
<span class="t" style="left:1011.8px;top:217.5px;font-size:12.8px;color:#374151;letter-spacing:-0.112px">Archive</span>
<svg style="left:981.5px;top:249.2px;width:19.2px;height:19.2px;fill:#374151" viewBox="0 0 24 24"><path d="M21.4 11.6L12.4 2.6C12 2.2 11.5 2 11 2H4C2.9 2 2 2.9 2 4V11C2 11.5 2.2 12 2.6 12.4L11.6 21.4C12 21.8 12.5 22 13 22C13.5 22 14 21.8 14.4 21.4L21.4 14.4C21.8 14 22 13.5 22 13C22 12.5 21.8 12 21.4 11.6M13 20L4 11V4H11L20 13M6.5 5C7.3 5 8 5.7 8 6.5S7.3 8 6.5 8 5 7.3 5 6.5 5.7 5 6.5 5M10.1 8.9L11.5 7.5L17 13L15.6 14.4L10.1 8.9M7.6 11.4L9 10L13 14L11.6 15.4L7.6 11.4Z"/></svg>
<span class="t" style="left:1011.8px;top:252.2px;font-size:12.8px;color:#374151;letter-spacing:-0.064px">Labels</span>
<svg style="left:981.5px;top:283.9px;width:19.2px;height:19.2px;fill:#374151" viewBox="0 0 24 24"><path d="M19,13H13V19H11V13H5V11H11V5H13V11H19V13Z"/></svg>
<span class="t" style="left:1011.8px;top:286.9px;font-size:12.8px;color:#374151;letter-spacing:0.070px">Link to Issue</span>
<svg style="left:981.5px;top:318.6px;width:19.2px;height:19.2px;fill:#dc2626" viewBox="0 0 24 24"><path d="M6,19A2,2 0 0,0 8,21H16A2,2 0 0,0 18,19V7H6V19M8,9H16V19H8V9M15.5,4L14.5,3H9.5L8.5,4H5V6H19V4H15.5Z"/></svg>
<span class="t" style="left:1011.8px;top:321.6px;font-size:12.8px;color:#dc2626;letter-spacing:0.000px">Delete</span>
<div class="abs" style="left:967px;top:137px;width:237px;height:1px;background:#e5e7eb;border-radius:0px;"></div>
<div class="abs" style="left:967px;top:240.5px;width:237px;height:1px;background:#e5e7eb;border-radius:0px;"></div>
<div class="abs" style="left:967px;top:310px;width:237px;height:1px;background:#e5e7eb;border-radius:0px;"></div>
<svg style="left:1085px;top:280px;width:56px;height:28px" viewBox="0 0 56 28"><g filter="drop-shadow(0 1px 1px rgba(0,0,0,.15))"><path d="M33 13.3H8" stroke="#f0243e" stroke-width="2.8" fill="none"/><path d="M13.6 7.4L7.2 13.3L13.6 19.2" stroke="#f0243e" stroke-width="3" fill="none" stroke-linecap="round" stroke-linejoin="round"/><circle cx="43.4" cy="13.3" r="7.1" fill="#f0243e"/></g><text x="43.4" y="16.9" text-anchor="middle" font-family="Liberation Sans, sans-serif" font-size="10" font-weight="700" fill="#fff">2</text></svg>
<svg style="left:1194px;top:43px;width:20px;height:20px" viewBox="0 0 20 20"><circle cx="9.4" cy="9.3" r="6.9" fill="#f0243e"/><text x="9.4" y="12.9" text-anchor="middle" font-family="Liberation Sans, sans-serif" font-size="10" font-weight="700" fill="#fff">1</text></svg>
<div id="topline"></div>
</div>
</body>
</html>
